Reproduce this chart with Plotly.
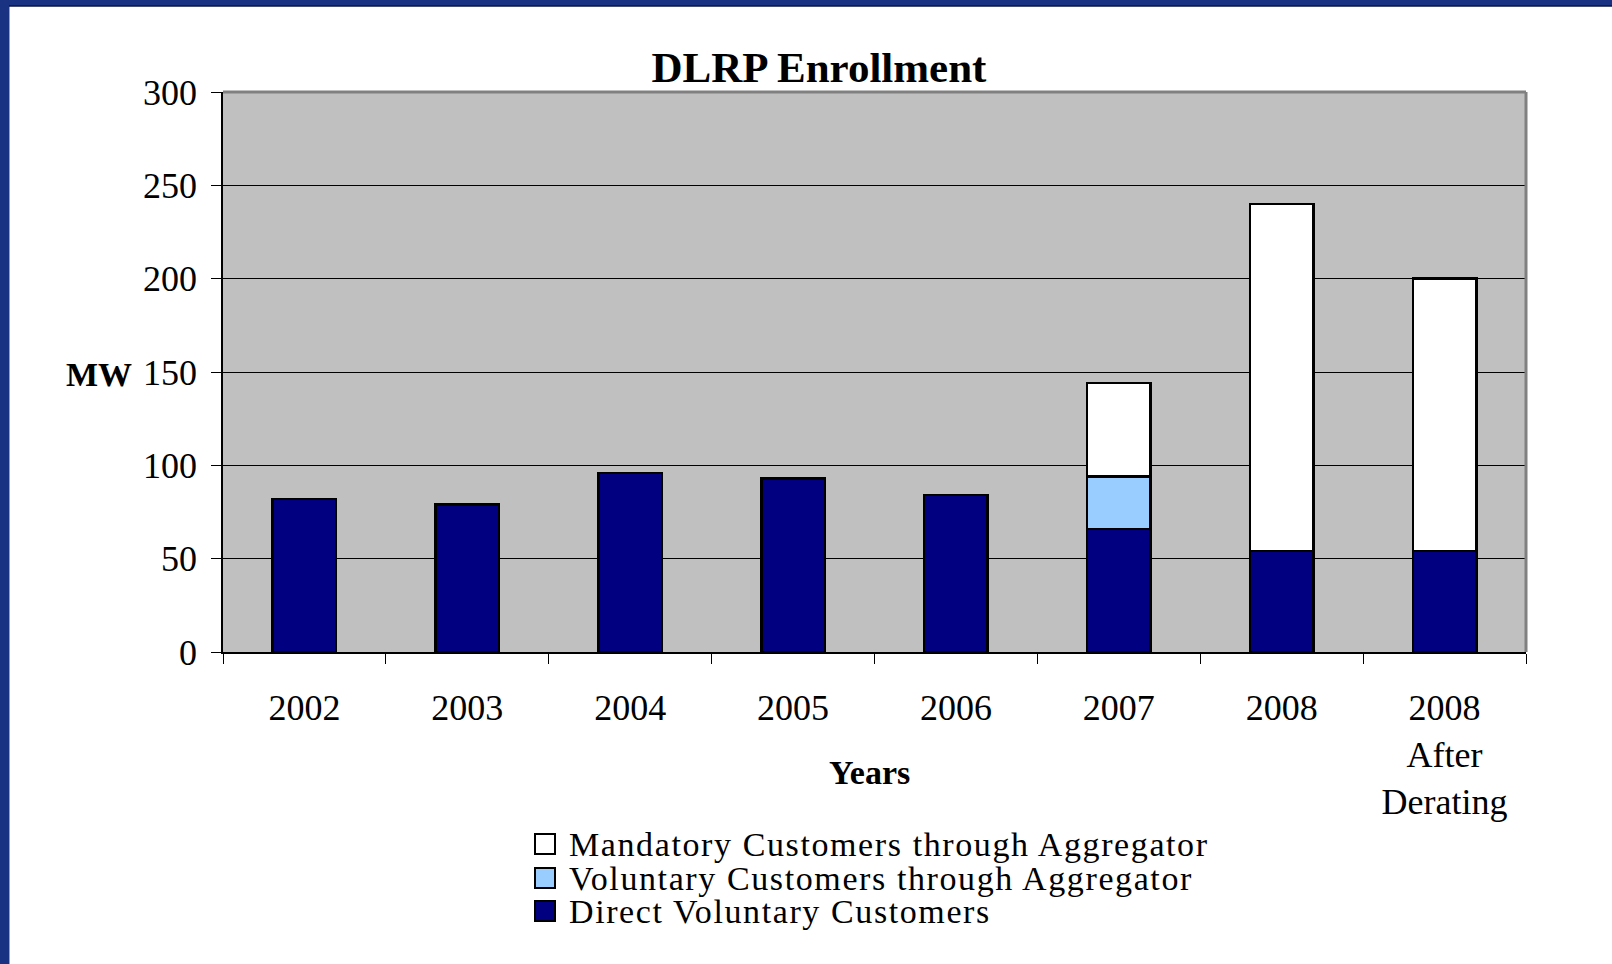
import plotly.graph_objects as go

# ---- data ----
categories = ["2002", "2003", "2004", "2005", "2006", "2007", "2008", "2008<br>After<br>Derating"]
direct_voluntary = [82, 79, 96, 93, 84, 66, 54, 54]
voluntary_aggregator = [0, 0, 0, 0, 0, 28, 0, 0]
mandatory_aggregator = [0, 0, 0, 0, 0, 50, 186, 146]
series_names = ["Mandatory Customers through Aggregator",
                "Voluntary Customers through Aggregator",
                "Direct Voluntary Customers"]
series_colors = ["#FFFFFF", "#99CCFF", "#000080"]
y_ticks = [0, 50, 100, 150, 200, 250, 300]

W, H = 1612, 964
L, R, T, B = 223, 1526, 92, 652  # plot area in pixels
pw, ph = R - L, B - T


def px(x):
    return (x - L) / pw


def py(y):
    return (B - y) / ph


SERIF = "Liberation Serif, Times New Roman, serif"

fig = go.Figure()
for name, vals, col in [(series_names[2], direct_voluntary, series_colors[2]),
                        (series_names[1], voluntary_aggregator, series_colors[1]),
                        (series_names[0], mandatory_aggregator, series_colors[0])]:
    fig.add_trace(go.Bar(
        x=categories, y=vals, name=name,
        marker=dict(color=col, line=dict(color="#000000", width=2.5)),
        showlegend=False,
    ))

fig.update_layout(
    width=W, height=H,
    barmode="stack", bargap=0.61,
    margin=dict(l=L, r=W - R, t=T, b=H - B, pad=0),
    paper_bgcolor="#FFFFFF",
    plot_bgcolor="#C0C0C0",
    font=dict(family=SERIF, color="#000000", size=36),
    title=dict(text="<b>DLRP Enrollment</b>", font=dict(size=43, family=SERIF),
               x=px(819), xanchor="center", xref="paper",
               y=1 - 67 / H, yanchor="middle"),
    xaxis=dict(
        type="category", showgrid=False,
        ticks="outside", ticklen=10, tickcolor="#000000", tickwidth=1,
        tickson="boundaries",
        showline=True, linecolor="#000000", linewidth=1.5,
        tickfont=dict(size=36, family=SERIF),
        ticklabelstandoff=23,
    ),
    yaxis=dict(
        range=[0, 300], tickvals=y_ticks, ticktext=[str(v) for v in y_ticks],
        showgrid=True, gridcolor="#000000", gridwidth=1,
        ticks="outside", ticklen=10, tickcolor="#000000", tickwidth=1,
        showline=True, linecolor="#000000", linewidth=1.5,
        tickfont=dict(size=36, family=SERIF),
        ticklabelstandoff=7,
        zeroline=False,
    ),
)

# axis titles
fig.add_annotation(text="<b>Years</b>", xref="paper", yref="paper",
                   x=px(869), y=py(772), xanchor="center", yanchor="middle",
                   showarrow=False, font=dict(size=34, family=SERIF))
fig.add_annotation(text="<b>MW</b>", xref="paper", yref="paper",
                   x=px(99), y=py(374), xanchor="center", yanchor="middle",
                   showarrow=False, font=dict(size=34, family=SERIF))

# plot-area gray border (top and right)
fig.add_shape(type="line", xref="paper", yref="paper", x0=0, x1=1, y0=1, y1=1,
              line=dict(color="#808080", width=3))
fig.add_shape(type="line", xref="paper", yref="paper", x0=1, x1=1, y0=0, y1=1,
              line=dict(color="#808080", width=3))

# legend (manual)
leg_rows = [844, 878, 911]
for name, col, yc in zip(series_names, series_colors, leg_rows):
    fig.add_shape(type="rect", xref="paper", yref="paper",
                  x0=px(535), x1=px(555), y0=py(yc + 10), y1=py(yc - 10),
                  fillcolor=col, line=dict(color="#000000", width=2))
    fig.add_annotation(text='<span style="letter-spacing:1.6px">' + name + '</span>',
                       xref="paper", yref="paper",
                       x=px(567), y=py(yc), xanchor="left", yanchor="middle",
                       showarrow=False, font=dict(size=34, family=SERIF))

# slide frame (blue band at left and top)
frame = "#1A3282"
fig.add_shape(type="rect", xref="paper", yref="paper",
              x0=px(0), x1=px(9), y0=py(H), y1=py(0),
              fillcolor=frame, line=dict(width=0), layer="above")
fig.add_shape(type="line", xref="paper", yref="paper",
              x0=px(9.5), x1=px(9.5), y0=py(H), y1=py(6),
              line=dict(color="#A0A0A0", width=1))
fig.add_shape(type="rect", xref="paper", yref="paper",
              x0=px(0), x1=px(W), y0=py(6), y1=py(0),
              fillcolor=frame, line=dict(width=0), layer="above")
fig.add_shape(type="line", xref="paper", yref="paper",
              x0=px(9), x1=px(W), y0=py(6), y1=py(6),
              line=dict(color="#0A1440", width=1.5))

fig.write_html("out.html",
               config={"displayModeBar": False},
               post_script="document.body.style.margin='0';document.body.style.overflow='hidden';")
